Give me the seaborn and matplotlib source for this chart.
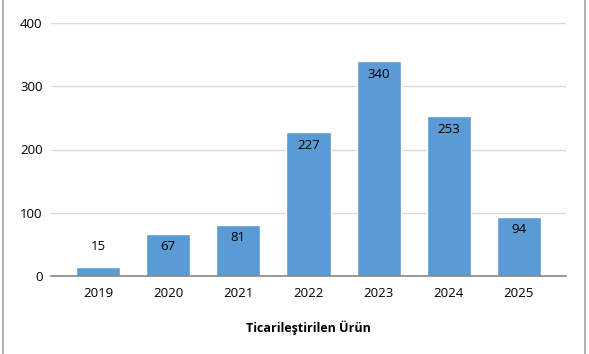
import matplotlib
matplotlib.use("Agg")
import matplotlib.pyplot as plt
import seaborn as sns
import pandas as pd
from matplotlib.lines import Line2D

years = ["2019", "2020", "2021", "2022", "2023", "2024", "2025"]
values = [15, 67, 81, 227, 340, 253, 94]
xlabel = "Ticarileştirilen Ürün"
yticks = [0, 100, 200, 300, 400]

sns.set_theme(style="white")
plt.rcParams["font.family"] = ["Open Sans", "DejaVu Sans"]

df = pd.DataFrame({"year": years, "value": values})

fig = plt.figure(figsize=(5.89, 3.54), dpi=100)
ax = fig.add_axes([51/589, 1-276/354, (566-51)/589, (276-23)/354])

sns.barplot(data=df, x="year", y="value", order=years, color="#5B9BD5",
            width=0.63, saturation=1, ax=ax, zorder=3)

ax.set_ylim(0, 400)
ax.set_xlim(-0.67, 6.67)
ax.set_yticks(yticks)
ax.yaxis.grid(True, color="#D9D9D9", linewidth=1, zorder=0)
ax.xaxis.grid(False)
for s in ["top", "right", "left"]:
    ax.spines[s].set_visible(False)
ax.spines["bottom"].set_color("#868686")
ax.spines["bottom"].set_linewidth(1.2)
ax.spines["bottom"].set_zorder(4)
ax.tick_params(axis="both", length=0, labelsize=9.5, colors="black")
ax.tick_params(axis="y", pad=6)
ax.tick_params(axis="x", pad=8)
ax.set_ylabel("")
ax.set_xlabel(xlabel, fontsize=9, fontweight="bold", labelpad=14.5, color="black")

for i, v in enumerate(values):
    if v < 40:
        ax.annotate(str(v), (i, v), xytext=(0, 14.5), textcoords="offset points",
                    ha="center", va="center", fontsize=9.5, color="black", zorder=5)
    else:
        ax.annotate(str(v), (i, v), xytext=(0, -9.5), textcoords="offset points",
                    ha="center", va="center", fontsize=9.5, color="black", zorder=5)

fig.add_artist(Line2D([2.5/589, 2.5/589], [0, 1], color="#A6A6A6", linewidth=1.2))
fig.add_artist(Line2D([585/589, 585/589], [0, 1], color="#A6A6A6", linewidth=1.2))

fig.savefig("out.png", dpi=100)
